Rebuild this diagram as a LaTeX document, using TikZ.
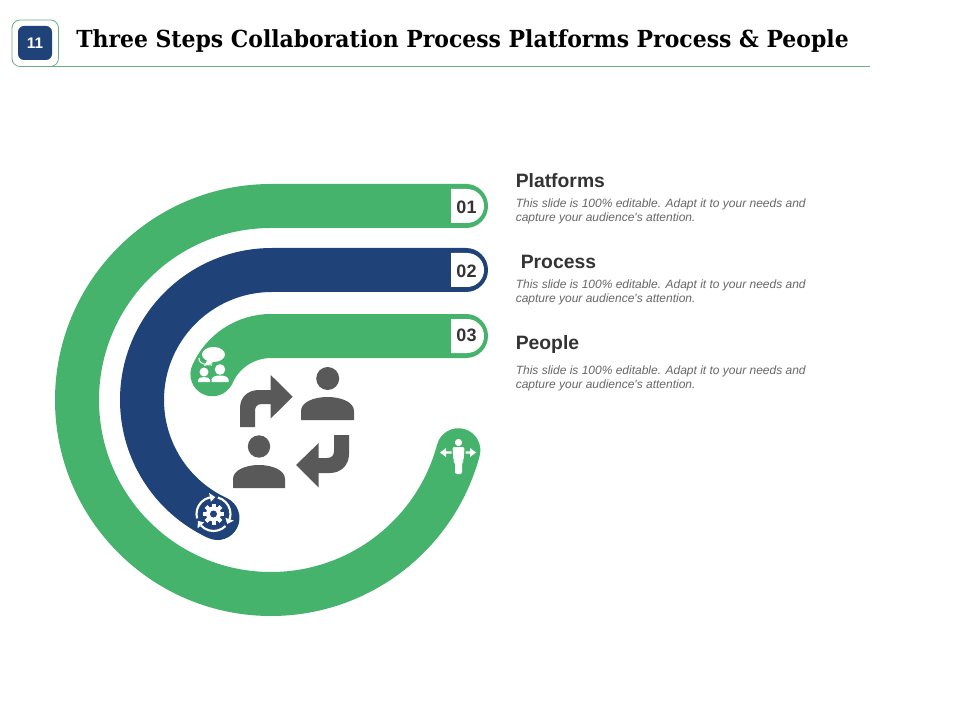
\documentclass[tikz,border=0pt]{standalone}
\usepackage{fontspec}
\setmainfont{Liberation Sans}
\newfontfamily\titlef[FakeStretch=0.935]{DejaVu Serif}
\definecolor{gbar}{HTML}{45B36B}
\definecolor{bbar}{HTML}{1F4279}
\definecolor{igrey}{HTML}{595959}
\definecolor{rulegreen}{HTML}{6DAF84}
\definecolor{txtdark}{HTML}{333333}
\definecolor{txtgrey}{HTML}{666666}
\tikzset{
  x=0.75pt,y=-0.75pt,
  band/.style={line width=33pt,line cap=round},
  numtxt/.style={font=\fontsize{13.5pt}{15pt}\selectfont\bfseries,text=txtdark,inner sep=0pt},
  headtxt/.style={font=\fontsize{14.5pt}{17pt}\selectfont\bfseries,text=txtdark,anchor=west,inner sep=0pt},
  desctxt/.style={font=\fontsize{9pt}{10.5pt}\selectfont\itshape,text=txtgrey,anchor=west,inner sep=0pt,align=left},
  icon/.style={fill=igrey,draw=none},
  wicon/.style={fill=white,draw=none}
}
\begin{document}
\begin{tikzpicture}
\useasboundingbox (0,0) rectangle (960,720);
% header
\draw[rulegreen,line width=0.6pt] (34,66) -- (870,66);
\fill[white] (12,20) rectangle (58,66);
\draw[rulegreen,line width=0.6pt,rounded corners=6pt] (12,20) rectangle (58.5,66.5);
\fill[bbar,rounded corners=4.5pt] (18,26) rectangle (52,60);
\node[font=\fontsize{11.5pt}{13pt}\selectfont\bfseries,text=white,inner sep=0pt] (num) at (35,43.5) {11};
\node[font=\fontsize{17.6pt}{20pt}\titlef\bfseries,text=black,anchor=west,inner sep=0pt] (title) at (76,41.5) {Three Steps Collaboration Process Platforms Process \& People};
% bands
\draw[band,gbar] (466,206) -- (271,206) arc[start angle=270,end angle=15,radius=194];
\draw[band,bbar] (466,270) -- (272,270) arc[start angle=270,end angle=114.8,radius=130];
\draw[band,gbar] (466,336) -- (271,336) arc[start angle=270,end angle=203.7,radius=64];
% number boxes
\foreach \t/\ny/\lab in {189/207/01,253/271/02,319/335.5/03}{
  \fill[white] (451,\t) -- (467,\t) arc[start angle=270,end angle=450,radius=17] -- (451,\t+34) -- cycle;
  \node[numtxt] at (466.5,\ny) {\lab};
}
% texts
\node[headtxt] (h1) at (515.5,180.5) {Platforms};
\node[desctxt] (d1) at (515.5,211.5) {This slide is 100\% editable. Adapt it to your needs and\\capture your audience\textquotesingle s attention.};
\node[headtxt] (h2) at (520.5,261.5) {Process};
\node[desctxt] (d2) at (515.5,292.5) {This slide is 100\% editable. Adapt it to your needs and\\capture your audience\textquotesingle s attention.};
\node[headtxt] (h3) at (515.5,345) {People};
\node[desctxt] (d3) at (515.5,378.5) {This slide is 100\% editable. Adapt it to your needs and\\capture your audience\textquotesingle s attention.};
% persons
\fill[icon] (327.7,378.5) circle[radius=11.5];
\fill[icon] (301,420) -- (301,411) .. controls (301,402) and (314,397) .. (327.5,397) .. controls (341,397) and (354,402) .. (354,411) -- (354,420) -- cycle;
\fill[icon] (259,446.5) circle[radius=11.2];
\fill[icon] (233,488) -- (233,479) .. controls (233,470) and (246,465) .. (259,465) .. controls (272,465) and (285,470) .. (285,479) -- (285,488) -- cycle;
% turn arrows
\fill[icon] (240,427) -- (240,408) .. controls (240,397) and (248,390) .. (259,390) -- (270.7,390) -- (270.7,375) -- (292.7,396.7) -- (270.7,418.5) -- (270.7,404) -- (262,404) .. controls (257,404) and (255,407) .. (255,411) -- (255,427) -- cycle;
\fill[icon] (349,435) -- (349,454) .. controls (349,465) and (341,473) .. (330,473) -- (318.7,473) -- (318.7,487.5) -- (296,465) -- (318.7,443) -- (318.7,458) -- (327,458) .. controls (332,458) and (334,455) .. (334,451) -- (334,435) -- cycle;
% chat people icon
\fill[wicon] (213.5,354.5) ellipse[x radius=11.5,y radius=7.5];
\fill[wicon] (204,366) -- (208,359) -- (213,363) -- cycle;
\draw[white,line width=0.8pt] (199,358) .. controls (198,362) and (203,365) .. (212,365);
\fill[wicon] (204,372) circle[radius=4.5];
\fill[wicon] (198,382) -- (198,380) .. controls (198,378) and (201,377) .. (204,377) .. controls (207,377) and (210,378) .. (210,380) -- (210,382) -- cycle;
\fill[wicon] (220,369.5) circle[radius=5.3];
\fill[wicon] (211.5,382) -- (211.5,380) .. controls (211.5,377) and (215,375.5) .. (220,375.5) .. controls (225,375.5) and (228.5,377) .. (228.5,380) -- (228.5,382) -- cycle;
% gear icon
\begin{scope}[shift={(213.5,514)}]
  \fill[wicon] (0,0) circle[radius=7.5];
  \foreach \a in {0,45,...,315}{
    \fill[wicon,rotate=\a] (-2,-10.5) rectangle (2,-6);
  }
  \fill[bbar] (0,0) circle[radius=3.5];
  \foreach \a in {0,120,240}{
    \begin{scope}[rotate=\a]
      \draw[white,line width=1.6pt] (285:17) arc[start angle=285,end angle=378,radius=17];
      \fill[wicon] (378:12.5) -- (378:21.5) -- (396:17) -- cycle;
    \end{scope}
  }
\end{scope}
% person with arrows icon
\fill[wicon] (458.5,442.5) circle[radius=3.6];
\fill[wicon,rounded corners=1.5pt] (452.5,447) -- (464.5,447) -- (463.5,461) -- (462,462) -- (462,474) -- (455,474) -- (455,462) -- (453.5,461) -- cycle;
\fill[wicon] (440,452.5) -- (446,448) -- (446,451.3) -- (451.5,451.3) -- (451.5,453.7) -- (446,453.7) -- (446,457) -- cycle;
\fill[wicon] (476,452.5) -- (470,448) -- (470,451.3) -- (465.5,451.3) -- (465.5,453.7) -- (470,453.7) -- (470,457) -- cycle;
\end{tikzpicture}
\end{document}
